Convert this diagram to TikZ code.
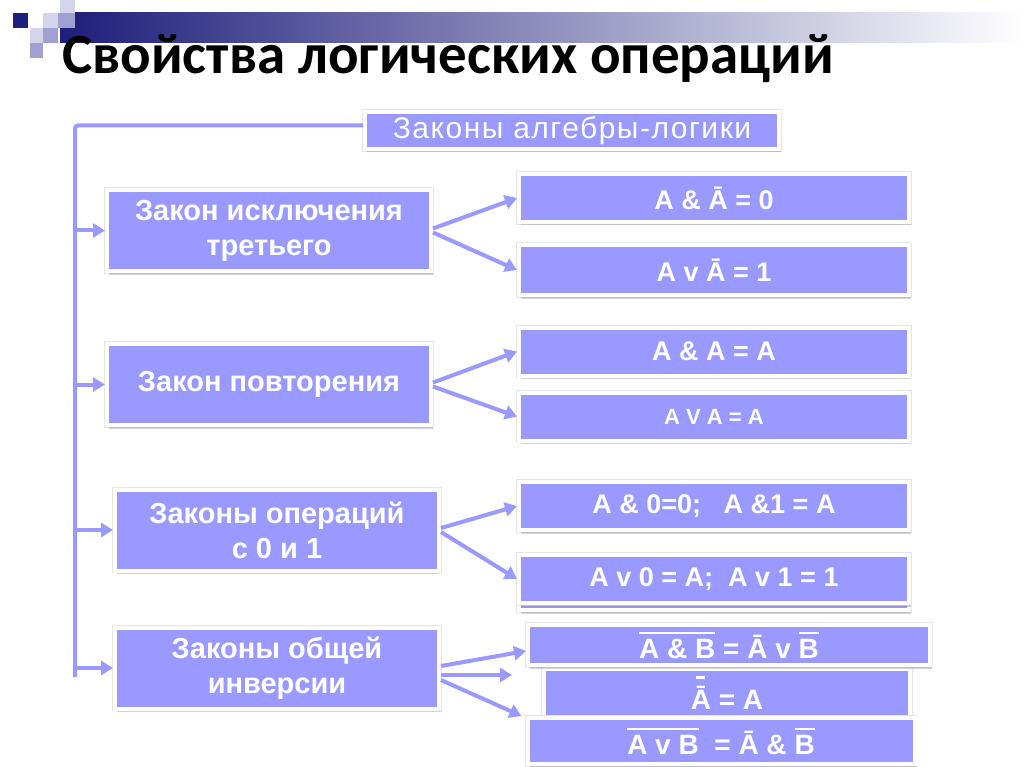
\documentclass[tikz,border=0pt]{standalone}
\usepackage{fontspec}
\setmainfont{Liberation Sans}
\newfontfamily\titlefont{Carlito}
\usetikzlibrary{arrows.meta,shadows}
\definecolor{lav}{HTML}{9999FF}
\definecolor{navy}{HTML}{1E1E7C}
\definecolor{lightsq}{HTML}{D4D4EC}
\definecolor{midsq}{HTML}{A0A0D2}
\newcommand\ovbar[1]{\leavevmode\setbox0\hbox{#1}\rlap{\raisebox{0.86em}{\rule{\wd0}{0.09em}}}\box0}
\newcommand\dbar{\leavevmode\setbox0\hbox{Ā}\rlap{\hbox to\wd0{\hss\raisebox{1.1em}{\rule{0.32em}{0.09em}}\hss}}\box0}
\tikzset{
  lawbox/.style={fill=lav, draw=white, line width=4pt, inner sep=0pt, text=white,
    align=center, preaction={draw=black!10, line width=5.5pt},
    drop shadow={shadow xshift=2pt, shadow yshift=-3.5pt, opacity=0.35}},
  mainbox/.style={lawbox, minimum width=324pt, minimum height=81pt,
    font=\fontsize{29}{35}\selectfont\bfseries},
  rulebox/.style={lawbox, minimum width=390pt, minimum height=48pt,
    font=\fontsize{27}{30}\selectfont\bfseries},
  invbox/.style={rulebox, font=\fontsize{28}{30}\selectfont\bfseries},
  trunkline/.style={draw=lav, line width=4pt, rounded corners=3pt},
  arr/.style={draw=lav, line width=4pt, -{Triangle[length=12pt,width=14pt]}}
}
\begin{document}
\begin{tikzpicture}[x=1pt,y=-1pt]
\useasboundingbox (0,0) rectangle (1024,767);
\clip (0,0) rectangle (1024,767);
\fill[white] (0,0) rectangle (1024,767);
\shade[left color=navy, right color=white] (60,13) rectangle (1024,43);
\fill[lightsq] (60,0) rectangle (75,13);
\fill[navy] (13,13) rectangle (28,28);
\fill[lightsq] (43,13) rectangle (58,28);
\fill[midsq] (58,13) rectangle (75,28);
\fill[lightsq] (30,28) rectangle (43,43);
\fill[midsq] (43,28) rectangle (58,43);
\fill[midsq] (30,43) rectangle (43,58);
\node[anchor=base west, inner sep=0pt, font=\titlefont\bfseries\fontsize{57}{62}\selectfont]
  (title) at (62,74) {Свойства логических операций};

\node[lawbox, minimum width=414pt, minimum height=37pt,
  font=\fontsize{30}{34}\selectfont\addfontfeature{LetterSpace=5}]
  (laws) at (572,130.5) {Законы алгебры-логики};
\node[mainbox] (excl) at (269,230.5) {Закон исключения\\третьего};
\node[mainbox] (rep) at (269,384.5) {Закон повторения};
\node[mainbox] (ops) at (277,530) {Законы операций\\с 0 и 1};
\node[mainbox] (inv) at (277,668) {Законы общей\\инверсии};
\coordinate (tbot) at (75,677);

\node[rulebox] (exa) at (714,198) {A \& Ā = 0};
\node[rulebox, minimum height=50pt] (exb) at (714,270) {A v Ā = 1};
\node[rulebox] (repa) at (714,351.5) {A \& A = A};
\node[rulebox, font=\fontsize{22}{26}\selectfont\bfseries] (repb) at (714,416.5) {A V A = A};
\node[rulebox] (opsa) at (714,506) {A \& 0=0;\ \ \ A \&1 = A};
\node[rulebox] (opsc) at (714,586) {};
\node[rulebox] (opsb) at (714,579) {A v 0 = A;\ \ A v 1 = 1};
\node[invbox, minimum width=366pt, minimum height=49pt] (invb) at (727,693) {\dbar\ = A};
\node[invbox, minimum width=402pt, minimum height=40pt]
  (inva) at (729,645) {\ovbar{A \& B}\ = Ā v \ovbar{B}};
\node[invbox, minimum width=387pt, minimum height=46pt]
  (invc) at (721,741) {\ovbar{A v B}\ \ = Ā \& \ovbar{B}};

\draw[trunkline] ([yshift=5pt]laws.west) -| (tbot);
\draw[arr] (excl.west -| tbot) -- (excl.west);
\draw[arr] (rep.west -| tbot) -- (rep.west);
\draw[arr] (ops.west -| tbot) -- (ops.west);
\draw[arr] (inv.west -| tbot) -- (inv.west);

\draw[arr] ([yshift=2pt]excl.east) -- (exa.west);
\draw[arr] ([yshift=-2pt]excl.east) -- (exb.west);
\draw[arr] ([yshift=2pt]rep.east) -- (repa.west);
\draw[arr] ([yshift=-2pt]rep.east) -- (repb.west);
\draw[arr] ([yshift=2pt]ops.east) -- (opsa.west);
\draw[arr] ([yshift=-2pt]ops.east) -- (opsb.west);
\draw[arr] ([yshift=2pt]inv.east) -- ([yshift=-6pt]inva.west);
\draw[arr, shorten >=14pt] ([yshift=-7pt]inv.east) -- ([yshift=-7pt]inv.east -| inva.west);
\draw[arr] ([yshift=-12pt]inv.east) -- ([xshift=-4pt]invc.north west);
\end{tikzpicture}
\end{document}
